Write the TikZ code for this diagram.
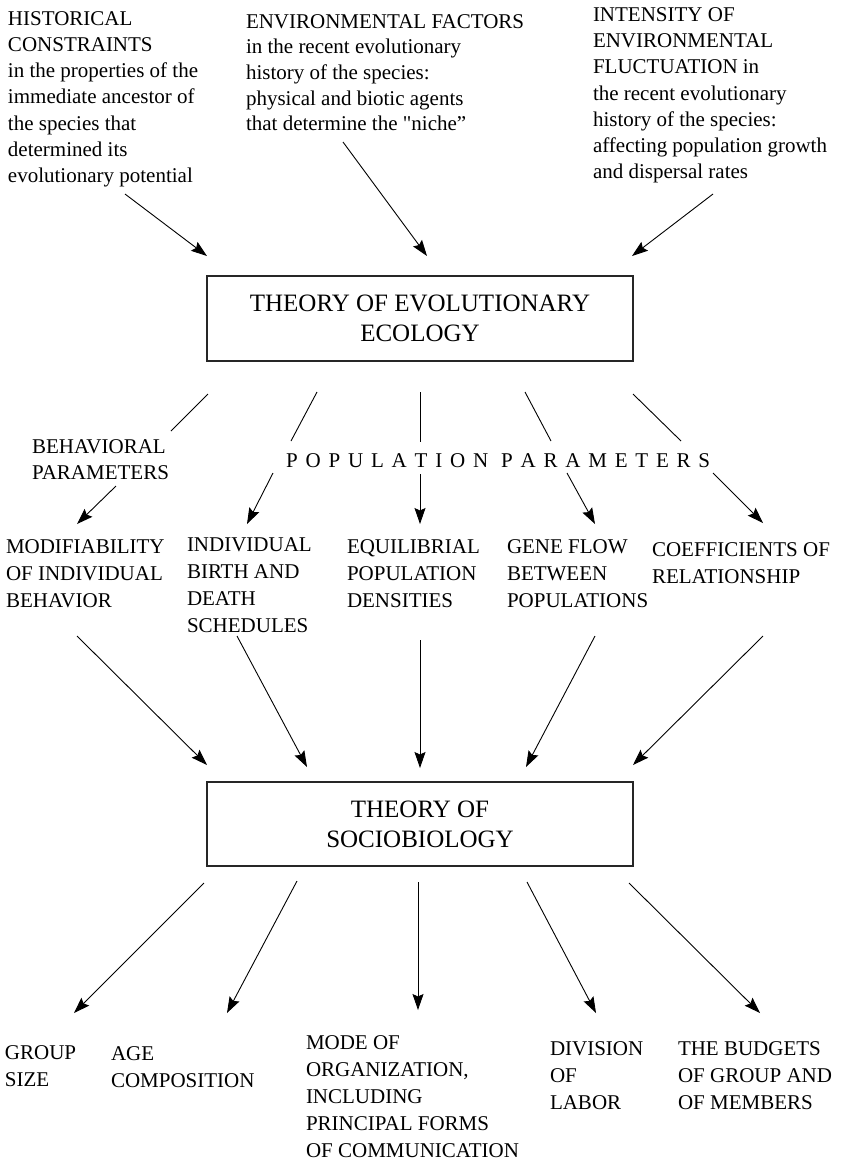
\documentclass[tikz,border=0pt]{standalone}
\usepackage{fontspec}
\setmainfont{Liberation Serif}
\usetikzlibrary{arrows.meta}
\begin{document}
\begin{tikzpicture}[x=1pt,y=-1pt,
  txt/.style={anchor=base west, inner sep=0pt, outer sep=0pt, align=left,
    font=\fontsize{21}{27}\selectfont},
  theorybox/.style={draw=black!85, line width=1.3pt, minimum width=426pt,
    align=center, inner sep=0pt, font=\fontsize{25}{30}\selectfont},
  conn/.style={line width=0.9pt},
  arr/.style={conn, -{Stealth[length=16pt,width=11pt,inset=2.5pt]}}
]
\useasboundingbox (0,0) rectangle (841,1160);
\fill[white] (0,0) rectangle (841,1160);

% ---------- top inputs (anchored at the baseline of the last line) ----------
\node[txt, font=\fontsize{21}{26.3}\selectfont] (hist) at (8,182.8)
  {HISTORICAL\\CONSTRAINTS\\in the properties of the\\immediate ancestor of\\the species that\\determined its\\evolutionary potential};
\node[txt, font=\fontsize{21}{25.7}\selectfont] (env) at (246,130.8)
  {ENVIRONMENTAL FACTORS\\in the recent evolutionary\\history of the species:\\physical and biotic agents\\that determine the {\addfontfeatures{Ligatures=TeXOff}"}niche”};
\node[txt, font=\fontsize{21}{26.2}\selectfont] (int) at (593,178.7)
  {INTENSITY OF\\ENVIRONMENTAL\\FLUCTUATION in\\the recent evolutionary\\history of the species:\\affecting population growth\\and dispersal rates};

% ---------- theory boxes ----------
\node[theorybox, minimum height=85pt] (eco) at (420,318.5)
  {THEORY OF EVOLUTIONARY\\ECOLOGY};
\node[theorybox, minimum height=84pt] (soc) at (420,824)
  {THEORY OF\\SOCIOBIOLOGY};

% ---------- parameter labels ----------
\node[txt, font=\fontsize{21}{26}\selectfont] (beh) at (32,479)
  {BEHAVIORAL\\PARAMETERS};
\node[anchor=base west, inner sep=0pt] (pop) at (286,467)
  {\fontsize{21}{21}\selectfont\makebox[424pt][s]{P\hfill O\hfill P\hfill U\hfill L\hfill A\hfill T\hfill I\hfill O\hfill N\hfill\hspace{5pt}P\hfill A\hfill R\hfill A\hfill M\hfill E\hfill T\hfill E\hfill R\hfill S}};

% ---------- second row ----------
\node[txt] (mod) at (6,607) {MODIFIABILITY\\OF INDIVIDUAL\\BEHAVIOR};
\node[txt] (ind) at (187,632) {INDIVIDUAL\\BIRTH AND\\DEATH\\SCHEDULES};
\node[txt] (equ) at (347,607) {EQUILIBRIAL\\POPULATION\\DENSITIES};
\node[txt] (gene) at (507,607) {GENE FLOW\\BETWEEN\\POPULATIONS};
\node[txt] (coef) at (652,583) {COEFFICIENTS OF\\RELATIONSHIP};

% ---------- bottom row ----------
\node[txt] (grp) at (5,1086) {GROUP\\SIZE};
\node[txt] (age) at (111,1087) {AGE\\COMPOSITION};
\node[txt] (mode) at (306,1157) {MODE OF\\ORGANIZATION,\\INCLUDING\\PRINCIPAL FORMS\\OF COMMUNICATION};
\node[txt] (div) at (550,1109) {DIVISION\\OF\\LABOR};
\node[txt] (bud) at (678,1109) {THE BUDGETS\\OF GROUP AND\\OF MEMBERS};

% ---------- connector end points ----------
\coordinate (t1s) at (125,194); \coordinate (t1e) at (207,256);
\coordinate (t2s) at (343,142); \coordinate (t2e) at (427,256);
\coordinate (t3s) at (713,194); \coordinate (t3e) at (632,256);

\coordinate (m1s) at (208,394); \coordinate (m1e) at (171,431);
\coordinate (m2s) at (317,392); \coordinate (m2e) at (291,441);
\coordinate (m3s) at (420,392); \coordinate (m3e) at (420,442);
\coordinate (m4s) at (525,392); \coordinate (m4e) at (551,441);
\coordinate (m5s) at (633,394); \coordinate (m5e) at (681,441);

\coordinate (p1s) at (116,486); \coordinate (p1e) at (77,524);
\coordinate (p2s) at (273,473); \coordinate (p2e) at (247,524);
\coordinate (p3s) at (420,474); \coordinate (p3e) at (420,524);
\coordinate (p4s) at (567,473); \coordinate (p4e) at (595,524);
\coordinate (p5s) at (713,473); \coordinate (p5e) at (763,523);

\coordinate (q1s) at (77,636);  \coordinate (q1e) at (207,765);
\coordinate (q2s) at (237,636); \coordinate (q2e) at (307,767);
\coordinate (q3s) at (420,640); \coordinate (q3e) at (420,768);
\coordinate (q4s) at (595,636); \coordinate (q4e) at (526,767);
\coordinate (q5s) at (763,636); \coordinate (q5e) at (633,765);

\coordinate (b1s) at (204,883); \coordinate (b1e) at (74,1013);
\coordinate (b2s) at (297,881); \coordinate (b2e) at (227,1013);
\coordinate (b3s) at (418,882); \coordinate (b3e) at (418,1010);
\coordinate (b4s) at (527,882); \coordinate (b4e) at (596,1013);
\coordinate (b5s) at (629,883); \coordinate (b5e) at (760,1013);

% ---------- connectors ----------
\draw[arr] (t1s) -- (t1e);
\draw[arr] (t2s) -- (t2e);
\draw[arr] (t3s) -- (t3e);

\draw[conn] (m1s) -- (m1e);
\draw[conn] (m2s) -- (m2e);
\draw[conn] (m3s) -- (m3e);
\draw[conn] (m4s) -- (m4e);
\draw[conn] (m5s) -- (m5e);

\draw[arr] (p1s) -- (p1e);
\draw[arr] (p2s) -- (p2e);
\draw[arr] (p3s) -- (p3e);
\draw[arr] (p4s) -- (p4e);
\draw[arr] (p5s) -- (p5e);

\draw[arr] (q1s) -- (q1e);
\draw[arr] (q2s) -- (q2e);
\draw[arr] (q3s) -- (q3e);
\draw[arr] (q4s) -- (q4e);
\draw[arr] (q5s) -- (q5e);

\draw[arr] (b1s) -- (b1e);
\draw[arr] (b2s) -- (b2e);
\draw[arr] (b3s) -- (b3e);
\draw[arr] (b4s) -- (b4e);
\draw[arr] (b5s) -- (b5e);
\end{tikzpicture}
\end{document}
